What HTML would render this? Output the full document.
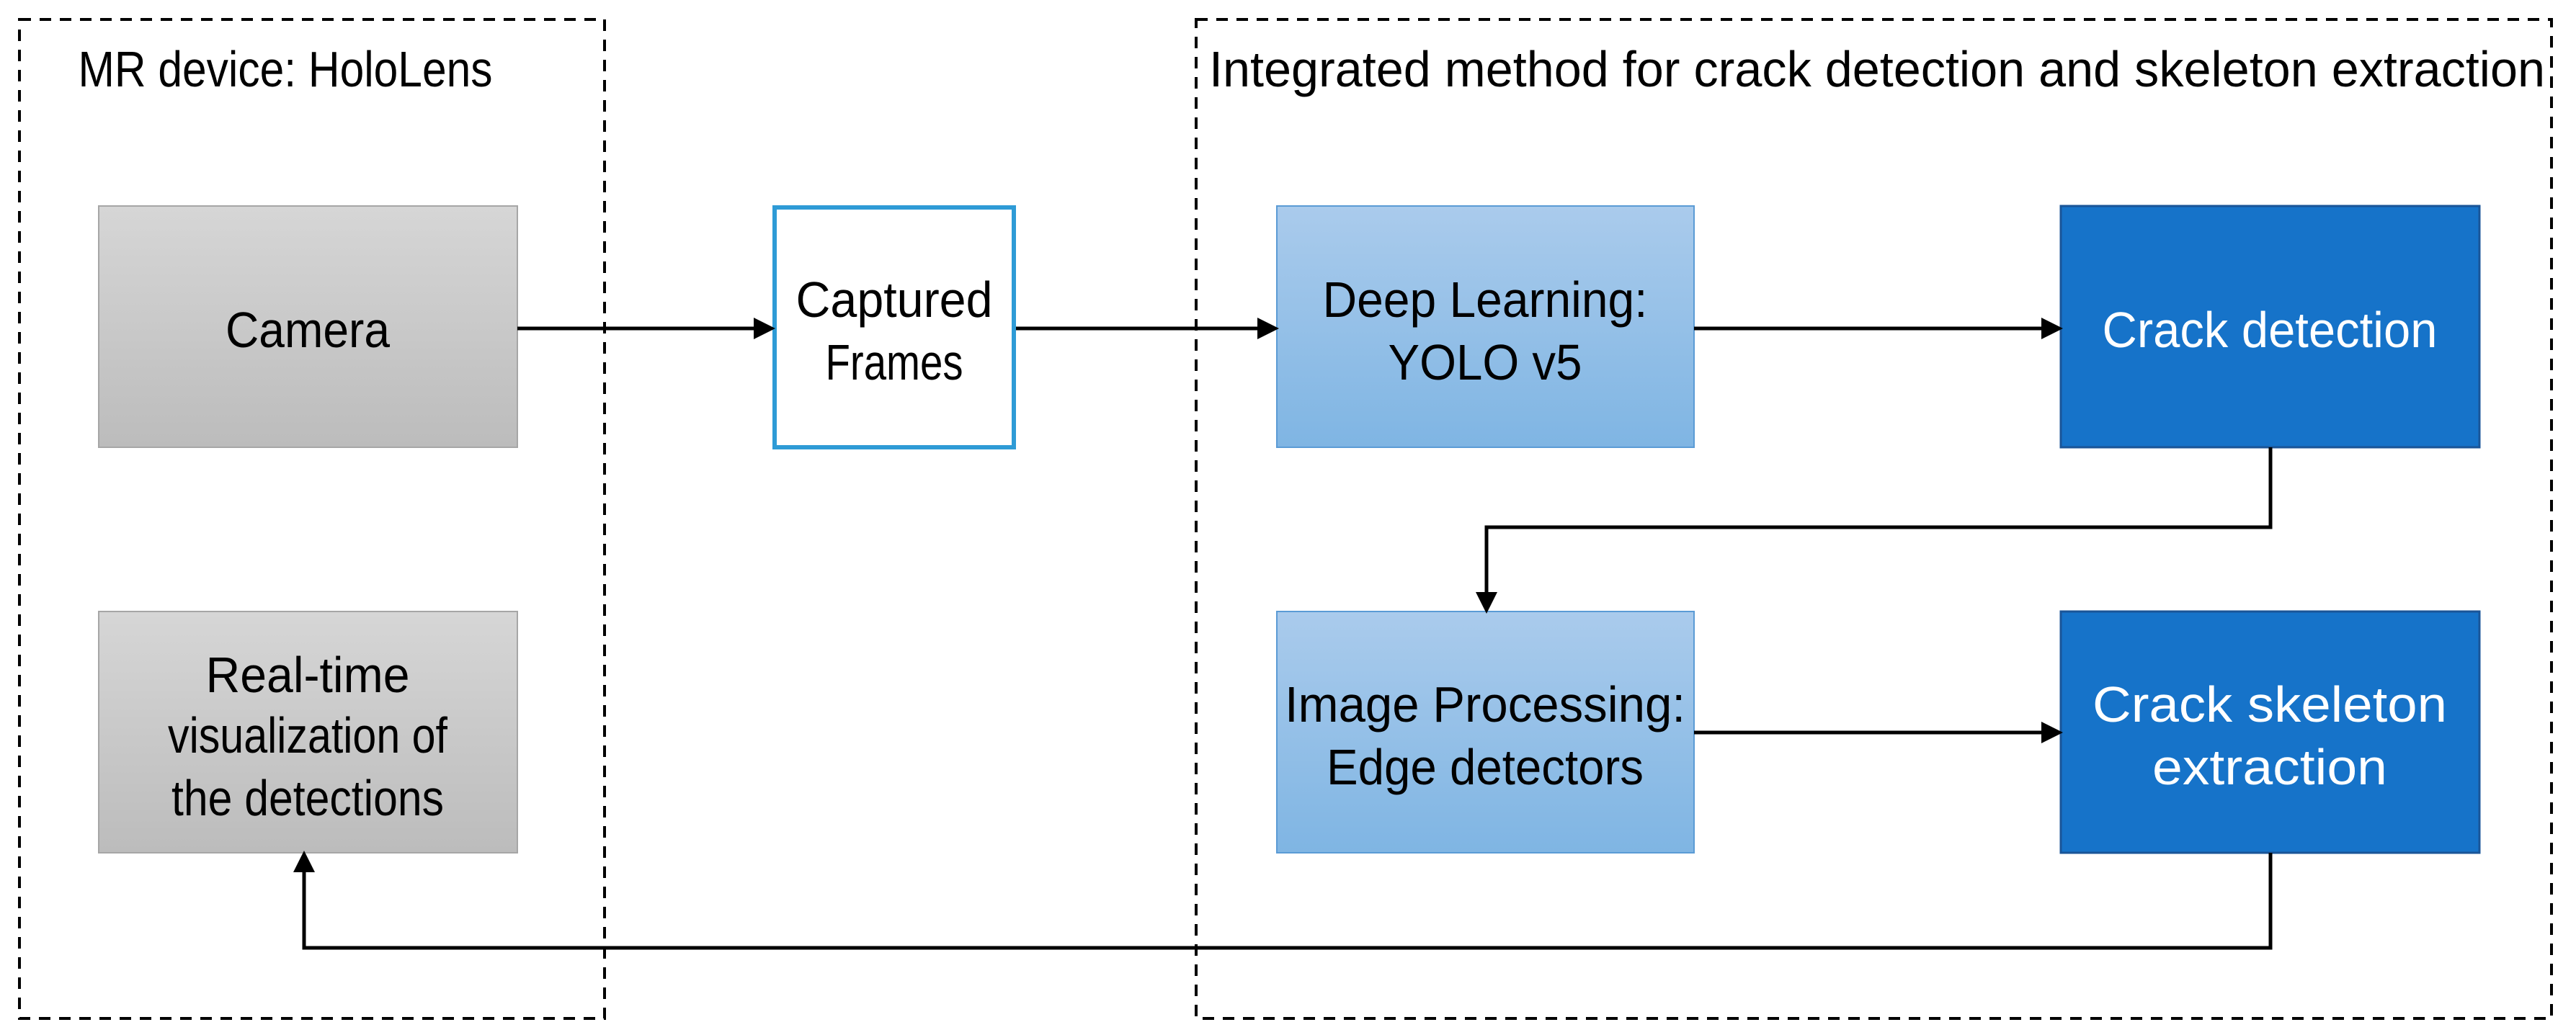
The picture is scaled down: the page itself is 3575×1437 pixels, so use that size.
<!DOCTYPE html>
<html><head><meta charset="utf-8"><style>html,body{margin:0;padding:0;background:#fff}svg{display:block}</style></head>
<body>
<svg width="3575" height="1437" viewBox="0 0 3575 1437" xmlns="http://www.w3.org/2000/svg" font-family="'Liberation Sans', sans-serif" font-size="70" text-anchor="middle">
<defs>
<linearGradient id="g" x1="0" y1="0" x2="0" y2="1"><stop offset="0" stop-color="#d6d6d6"/><stop offset="1" stop-color="#bcbcbc"/></linearGradient>
<linearGradient id="b" x1="0" y1="0" x2="0" y2="1"><stop offset="0" stop-color="#aacbec"/><stop offset="1" stop-color="#7fb5e3"/></linearGradient>
<marker id="a" markerWidth="6" markerHeight="6" refX="5" refY="3" orient="auto" markerUnits="strokeWidth"><path d="M0,0 L6,3 L0,6 z" fill="#000"/></marker>
</defs>
<rect x="27" y="27" width="812" height="1387" fill="none" stroke="#000" stroke-width="4" stroke-dasharray="16,12"/>
<rect x="1660" y="27" width="1881" height="1387" fill="none" stroke="#000" stroke-width="4" stroke-dasharray="16,12"/>
<text x="396" y="120" textLength="575" lengthAdjust="spacingAndGlyphs">MR device: HoloLens</text>
<text x="2605" y="120" textLength="1854" lengthAdjust="spacingAndGlyphs">Integrated method for crack detection and skeleton extraction</text>
<rect x="137" y="286" width="581" height="335" fill="url(#g)" stroke="#a6a6a6" stroke-width="2"/>
<rect x="137" y="849" width="581" height="335" fill="url(#g)" stroke="#a6a6a6" stroke-width="2"/>
<rect x="1075" y="288" width="332" height="333" fill="#fff" stroke="#2e9bd6" stroke-width="6"/>
<rect x="1772" y="286" width="579" height="335" fill="url(#b)" stroke="#5b9bd5" stroke-width="2"/>
<rect x="1772" y="849" width="579" height="335" fill="url(#b)" stroke="#5b9bd5" stroke-width="2"/>
<rect x="2860" y="286" width="581" height="335" fill="#1673c9" stroke="#1a5598" stroke-width="3"/>
<rect x="2860" y="849" width="581" height="335" fill="#1673c9" stroke="#1a5598" stroke-width="3"/>
<g stroke="#000" stroke-width="5" fill="none" marker-end="url(#a)">
<line x1="718" y1="456" x2="1071" y2="456"/>
<line x1="1410" y1="456" x2="1770" y2="456"/>
<line x1="2351" y1="456" x2="2858" y2="456"/>
<line x1="2351" y1="1017" x2="2858" y2="1017"/>
<polyline points="3151,621 3151,732 2063,732 2063,847"/>
<polyline points="3151,1184 3151,1316 422,1316 422,1186"/>
</g>
<text x="427" y="482" textLength="228" lengthAdjust="spacingAndGlyphs">Camera</text>
<text x="1241" y="440" textLength="273" lengthAdjust="spacingAndGlyphs">Captured</text>
<text x="1241" y="527" textLength="191" lengthAdjust="spacingAndGlyphs">Frames</text>
<text x="2061" y="440" textLength="451" lengthAdjust="spacingAndGlyphs">Deep Learning:</text>
<text x="2061" y="527" textLength="269" lengthAdjust="spacingAndGlyphs">YOLO v5</text>
<text x="3150" y="482" fill="#fff" textLength="465" lengthAdjust="spacingAndGlyphs">Crack detection</text>
<text x="427" y="961" textLength="283" lengthAdjust="spacingAndGlyphs">Real-time</text>
<text x="427" y="1045" textLength="388" lengthAdjust="spacingAndGlyphs">visualization of</text>
<text x="427" y="1132" textLength="378" lengthAdjust="spacingAndGlyphs">the detections</text>
<text x="2061" y="1002" textLength="556" lengthAdjust="spacingAndGlyphs">Image Processing:</text>
<text x="2061" y="1089" textLength="440" lengthAdjust="spacingAndGlyphs">Edge detectors</text>
<text x="3150" y="1002" fill="#fff" textLength="492" lengthAdjust="spacingAndGlyphs">Crack skeleton</text>
<text x="3150" y="1089" fill="#fff" textLength="326" lengthAdjust="spacingAndGlyphs">extraction</text>
</svg>
</body></html>
